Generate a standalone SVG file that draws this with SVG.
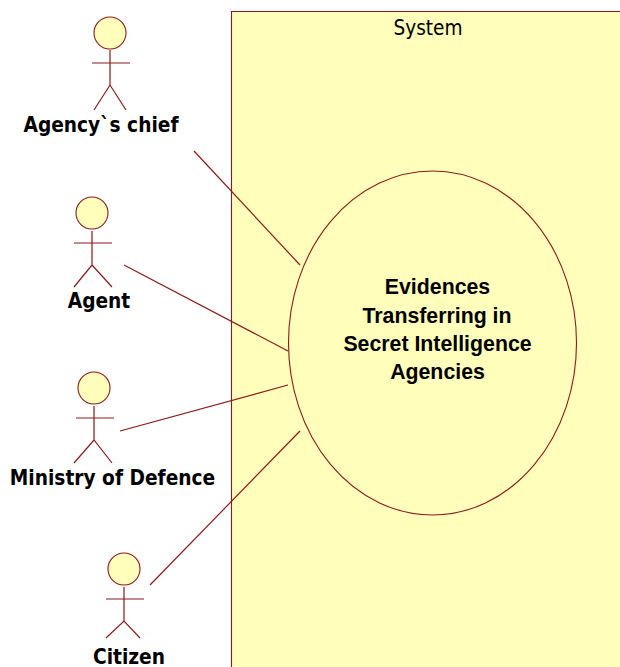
<svg xmlns="http://www.w3.org/2000/svg" width="620" height="667" viewBox="0 0 620 667">
<style>
.s{stroke:#8b1a1a;stroke-width:1.2;fill:none}
.f{fill:#ffffbb;stroke:#8b1a1a;stroke-width:1.1}
.b{font-family:"DejaVu Sans Condensed","DejaVu Sans",sans-serif;font-stretch:condensed;font-weight:bold;font-size:20.700px;fill:#000;text-anchor:middle}
.u{font-family:"Liberation Sans",Arial,sans-serif;font-weight:bold;font-size:21.300px;fill:#000;text-anchor:middle}
.n{font-family:"DejaVu Sans Condensed","DejaVu Sans",sans-serif;font-stretch:condensed;font-size:20.600px;fill:#000;text-anchor:middle}
</style>
<rect width="620" height="667" fill="#fff"/>
<g id="system">
<path class="f" d="M622 11.500H231.500V672H622Z"/>
<text class="n" x="428" y="35">System</text>
</g>
<g id="use-case">
<ellipse class="f" cx="432.500" cy="343" rx="144" ry="172"/>
<text class="u" x="437.500" y="294">Evidences</text>
<text class="u" x="437" y="323">Transferring in</text>
<text class="u" x="437.500" y="351">Secret Intelligence</text>
<text class="u" x="437.500" y="379">Agencies</text>
</g>
<g id="connectors">
<path class="s" d="M194 151L300 265"/>
<path class="s" d="M124 265L288 351"/>
<path class="s" d="M120 431L288 385"/>
<path class="s" d="M150 585L300 431"/>
</g>
<g id="actor-chief">
<circle class="f" cx="110" cy="33" r="16"/>
<path class="s" d="M110 50V85M92 63H130M94 110L110 85L126 110"/>
<text class="b" x="101" y="132">Agency`s chief</text>
</g>
<g id="actor-agent">
<circle class="f" cx="92" cy="213" r="16"/>
<path class="s" d="M92 231V265M74 243H112M74 287L92 265L112 287"/>
<text class="b" x="99" y="308">Agent</text>
</g>
<g id="actor-ministry">
<circle class="f" cx="94" cy="388" r="16"/>
<path class="s" d="M94 406V440M76 418H114M74 463L94 440L112 463"/>
<text class="b" x="112.500" y="485">Ministry of Defence</text>
</g>
<g id="actor-citizen">
<circle class="f" cx="124" cy="569" r="16"/>
<path class="s" d="M124 587V621M106 599H144M106 638L124 621L140 638"/>
<text class="b" x="129" y="664">Citizen</text>
</g>
</svg>
